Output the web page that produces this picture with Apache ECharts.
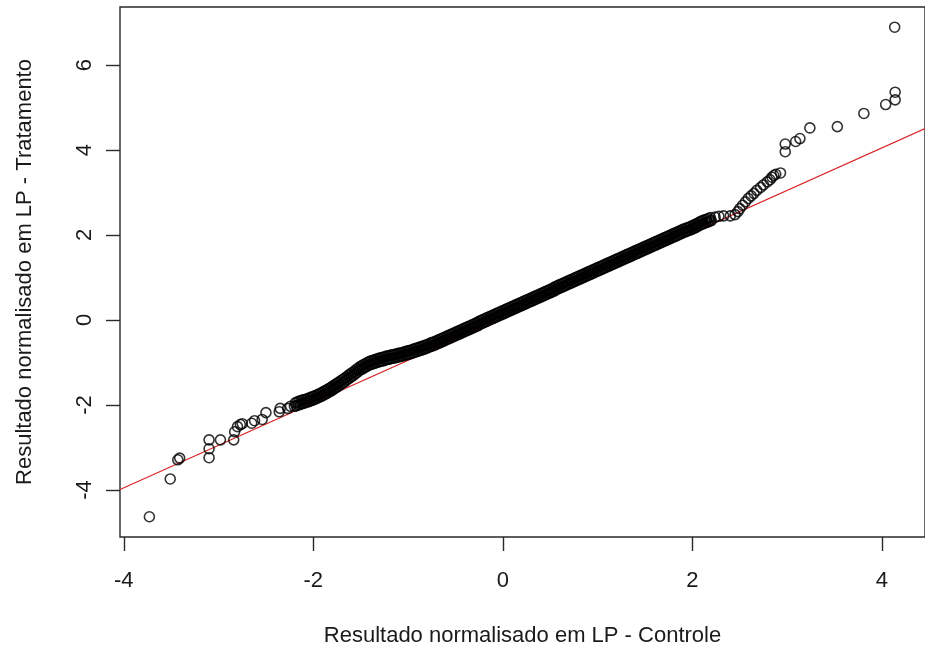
<!DOCTYPE html>
<html>
<head>
<meta charset="utf-8">
<script src="https://cdn.jsdelivr.net/npm/echarts@6/dist/echarts.min.js"></script>
<style>
html,body{margin:0;padding:0;background:#fff;}
#chart{width:925px;height:652px;}
</style>
</head>
<body>
<div id="chart"></div>
<script>
// Quantile pairs: [Controle, Tratamento]
var tailLow = [[-3.73,-4.63],[-3.51,-3.74],[-3.43,-3.29],[-3.41,-3.25],[-3.10,-3.24],[-3.10,-3.03],[-3.10,-2.82],[-2.98,-2.82],[-2.84,-2.82],[-2.83,-2.63],[-2.80,-2.51],[-2.77,-2.46],[-2.75,-2.44],[-2.65,-2.43],[-2.62,-2.37],[-2.54,-2.34],[-2.50,-2.18],[-2.36,-2.16],[-2.35,-2.08],[-2.27,-2.08],[-2.24,-2.03]];

// dense band: lower part
var bandRowA = [
[-2.20,-2.03],[-2.18,-2.02],[-2.16,-2.00],[-2.14,-1.99],[-2.12,-1.97],
[-2.10,-1.96],[-2.08,-1.94],[-2.06,-1.93],[-2.04,-1.91],[-2.02,-1.90],
[-2.00,-1.88],[-1.98,-1.86],[-1.96,-1.84],[-1.94,-1.82],[-1.92,-1.80],
[-1.90,-1.78],[-1.88,-1.75],[-1.86,-1.73],[-1.84,-1.70],[-1.82,-1.68],
[-1.80,-1.65],[-1.78,-1.62],[-1.76,-1.59],[-1.74,-1.56],[-1.72,-1.53],
[-1.70,-1.50],[-1.68,-1.47],[-1.66,-1.44],[-1.64,-1.40],[-1.62,-1.37],
[-1.60,-1.34],[-1.58,-1.31],[-1.56,-1.27],[-1.54,-1.24],[-1.52,-1.20],
[-1.50,-1.17],[-1.48,-1.15],[-1.46,-1.12],[-1.44,-1.10],[-1.42,-1.07],
[-1.40,-1.05],[-1.38,-1.04],[-1.36,-1.02],[-1.34,-1.01],[-1.32,-0.99],
[-1.30,-0.98],[-1.28,-0.97],[-1.26,-0.96],[-1.24,-0.94],[-1.22,-0.93],
[-1.20,-0.92],[-1.18,-0.91],[-1.16,-0.90],[-1.14,-0.89],[-1.12,-0.88],
[-1.10,-0.87],[-1.08,-0.86],[-1.06,-0.85],[-1.04,-0.83],[-1.02,-0.82],
[-1.00,-0.81],[-0.98,-0.80],[-0.96,-0.78],[-0.94,-0.77],[-0.92,-0.75],
[-0.90,-0.74],[-0.88,-0.72],[-0.86,-0.71],[-0.84,-0.69],[-0.82,-0.68],
[-0.80,-0.66],[-0.78,-0.64],[-0.76,-0.62],[-0.74,-0.61],[-0.72,-0.59],
[-0.70,-0.57],[-0.68,-0.55],[-0.66,-0.53],[-0.64,-0.51],[-0.62,-0.49],
[-0.60,-0.47],[-0.58,-0.45],[-0.56,-0.43],[-0.54,-0.41],[-0.52,-0.39],
[-0.50,-0.37],[-0.48,-0.35],[-0.46,-0.33],[-0.44,-0.31],[-0.42,-0.29],
[-0.40,-0.27],[-0.38,-0.25],[-0.36,-0.23],[-0.34,-0.21],[-0.32,-0.19],
[-0.30,-0.17],[-0.28,-0.15],[-0.26,-0.13],[-0.24,-0.10],[-0.22,-0.08],
[-0.20,-0.06],[-0.18,-0.04],[-0.16,-0.02],[-0.14,0.00],[-0.12,0.02],
[-0.10,0.04],[-0.08,0.06],[-0.06,0.08],[-0.04,0.10],[-0.02,0.12],
[0.00,0.14],[0.02,0.16],[0.04,0.18],[0.06,0.20],[0.08,0.22],
[0.10,0.24],[0.12,0.26],[0.14,0.28],[0.16,0.30],[0.18,0.32],
[0.20,0.34],[0.22,0.36],[0.24,0.38],[0.26,0.40],[0.28,0.42],
[0.30,0.44],[0.32,0.46],[0.34,0.48],[0.36,0.50],[0.38,0.52],
[0.40,0.54],[0.42,0.56],[0.44,0.58],[0.46,0.60],[0.48,0.62],
[0.50,0.64],[0.52,0.66],[0.54,0.68],[0.56,0.71],[0.58,0.73],
[0.60,0.75],[0.62,0.77],[0.64,0.79],[0.66,0.81],[0.68,0.83],
[0.70,0.85],[0.72,0.87],[0.74,0.89],[0.76,0.91],[0.78,0.93],
[0.80,0.95],[0.82,0.97],[0.84,0.99],[0.86,1.01],[0.88,1.03],
[0.90,1.05],[0.92,1.07],[0.94,1.09],[0.96,1.11],[0.98,1.13],
[1.00,1.15],[1.02,1.17],[1.04,1.19],[1.06,1.21],[1.08,1.23],
[1.10,1.25],[1.12,1.27],[1.14,1.29],[1.16,1.31],[1.18,1.33],
[1.20,1.35],[1.22,1.37],[1.24,1.39],[1.26,1.41],[1.28,1.43],
[1.30,1.45],[1.32,1.47],[1.34,1.49],[1.36,1.51],[1.38,1.53],
[1.40,1.55],[1.42,1.57],[1.44,1.59],[1.46,1.61],[1.48,1.63],
[1.50,1.65],[1.52,1.67],[1.54,1.69],[1.56,1.71],[1.58,1.73],
[1.60,1.75],[1.62,1.77],[1.64,1.79],[1.66,1.81],[1.68,1.83],
[1.70,1.85],[1.72,1.87],[1.74,1.89],[1.76,1.91],[1.78,1.93],
[1.80,1.95],[1.82,1.97],[1.84,1.99],[1.86,2.01],[1.88,2.03],
[1.90,2.05],[1.92,2.07],[1.94,2.09],[1.96,2.10],[1.98,2.12],
[2.00,2.14],[2.02,2.16],[2.04,2.18],[2.06,2.21],[2.08,2.23],
[2.10,2.25],[2.12,2.27],[2.14,2.29],[2.16,2.30],[2.18,2.32],
[2.20,2.34]];

// dense band: upper part
var bandRowB = [
[-2.19,-1.95],[-2.17,-1.93],[-2.15,-1.91],[-2.13,-1.90],[-2.11,-1.88],
[-2.09,-1.87],[-2.07,-1.86],[-2.05,-1.84],[-2.03,-1.82],[-2.01,-1.81],
[-1.99,-1.79],[-1.97,-1.77],[-1.95,-1.75],[-1.93,-1.73],[-1.91,-1.71],
[-1.89,-1.68],[-1.87,-1.66],[-1.85,-1.63],[-1.83,-1.61],[-1.81,-1.58],
[-1.79,-1.55],[-1.77,-1.52],[-1.75,-1.49],[-1.73,-1.46],[-1.71,-1.43],
[-1.69,-1.40],[-1.67,-1.37],[-1.65,-1.34],[-1.63,-1.30],[-1.61,-1.27],
[-1.59,-1.24],[-1.57,-1.21],[-1.55,-1.17],[-1.53,-1.14],[-1.51,-1.10],
[-1.49,-1.08],[-1.47,-1.05],[-1.45,-1.03],[-1.43,-1.00],[-1.41,-0.98],
[-1.39,-0.96],[-1.37,-0.95],[-1.35,-0.93],[-1.33,-0.92],[-1.31,-0.90],
[-1.29,-0.89],[-1.27,-0.88],[-1.25,-0.87],[-1.23,-0.85],[-1.21,-0.84],
[-1.19,-0.83],[-1.17,-0.82],[-1.15,-0.81],[-1.13,-0.80],[-1.11,-0.79],
[-1.09,-0.78],[-1.07,-0.77],[-1.05,-0.76],[-1.03,-0.74],[-1.01,-0.73],
[-0.99,-0.72],[-0.97,-0.71],[-0.95,-0.69],[-0.93,-0.68],[-0.91,-0.66],
[-0.89,-0.65],[-0.87,-0.63],[-0.85,-0.62],[-0.83,-0.60],[-0.81,-0.59],
[-0.79,-0.57],[-0.77,-0.55],[-0.75,-0.53],[-0.73,-0.52],[-0.71,-0.50],
[-0.69,-0.48],[-0.67,-0.46],[-0.65,-0.44],[-0.63,-0.42],[-0.61,-0.40],
[-0.59,-0.38],[-0.57,-0.36],[-0.55,-0.34],[-0.53,-0.32],[-0.51,-0.30],
[-0.49,-0.28],[-0.47,-0.26],[-0.45,-0.24],[-0.43,-0.22],[-0.41,-0.20],
[-0.39,-0.18],[-0.37,-0.16],[-0.35,-0.14],[-0.33,-0.12],[-0.31,-0.10],
[-0.29,-0.08],[-0.27,-0.06],[-0.25,-0.03],[-0.23,-0.01],[-0.21,0.01],
[-0.19,0.03],[-0.17,0.05],[-0.15,0.07],[-0.13,0.09],[-0.11,0.11],
[-0.09,0.13],[-0.07,0.15],[-0.05,0.17],[-0.03,0.19],[-0.01,0.21],
[0.01,0.23],[0.03,0.25],[0.05,0.27],[0.07,0.29],[0.09,0.31],
[0.11,0.33],[0.13,0.35],[0.15,0.37],[0.17,0.39],[0.19,0.41],
[0.21,0.43],[0.23,0.45],[0.25,0.47],[0.27,0.49],[0.29,0.51],
[0.31,0.53],[0.33,0.55],[0.35,0.57],[0.37,0.59],[0.39,0.61],
[0.41,0.63],[0.43,0.65],[0.45,0.67],[0.47,0.69],[0.49,0.71],
[0.51,0.73],[0.53,0.75],[0.55,0.78],[0.57,0.80],[0.59,0.82],
[0.61,0.84],[0.63,0.86],[0.65,0.88],[0.67,0.90],[0.69,0.92],
[0.71,0.94],[0.73,0.96],[0.75,0.98],[0.77,1.00],[0.79,1.02],
[0.81,1.04],[0.83,1.06],[0.85,1.08],[0.87,1.10],[0.89,1.12],
[0.91,1.14],[0.93,1.16],[0.95,1.18],[0.97,1.20],[0.99,1.22],
[1.01,1.24],[1.03,1.26],[1.05,1.28],[1.07,1.30],[1.09,1.32],
[1.11,1.34],[1.13,1.36],[1.15,1.38],[1.17,1.40],[1.19,1.42],
[1.21,1.44],[1.23,1.46],[1.25,1.48],[1.27,1.50],[1.29,1.52],
[1.31,1.54],[1.33,1.56],[1.35,1.58],[1.37,1.60],[1.39,1.62],
[1.41,1.64],[1.43,1.66],[1.45,1.68],[1.47,1.70],[1.49,1.72],
[1.51,1.74],[1.53,1.76],[1.55,1.78],[1.57,1.80],[1.59,1.82],
[1.61,1.84],[1.63,1.86],[1.65,1.88],[1.67,1.90],[1.69,1.92],
[1.71,1.94],[1.73,1.96],[1.75,1.98],[1.77,2.00],[1.79,2.02],
[1.81,2.04],[1.83,2.06],[1.85,2.08],[1.87,2.10],[1.89,2.12],
[1.91,2.14],[1.93,2.16],[1.95,2.17],[1.97,2.19],[1.99,2.21],
[2.01,2.23],[2.03,2.25],[2.05,2.27],[2.07,2.30],[2.09,2.32],
[2.11,2.34],[2.13,2.36],[2.15,2.37],[2.17,2.39],[2.19,2.41]];

var tailHigh = [[2.24,2.42],[2.28,2.44],[2.33,2.45],[2.40,2.45],[2.45,2.48],[2.48,2.55],[2.50,2.62],[2.53,2.70],[2.56,2.78],[2.59,2.86],[2.62,2.92],[2.65,2.98],[2.68,3.05],[2.72,3.12],[2.75,3.18],[2.79,3.25],[2.82,3.30],[2.84,3.36],[2.86,3.40],[2.88,3.43],[2.93,3.46],[2.98,3.96],[2.98,4.14],[3.09,4.20],[3.135,4.27],[3.24,4.52],[3.53,4.55],[3.81,4.86],[4.04,5.07],[4.14,5.18],[4.14,5.36],[4.135,6.89]];

// Reference line (intercept, slope)
var lineIntercept = 0.05;
var lineSlope = 1.0;

var xTicks = [-4, -2, 0, 2, 4];
var yTicks = [-4, -2, 0, 2, 4, 6];
var xLimits = [-4.04, 4.455];
var yLimits = [-5.106, 7.365];

var xTitle = 'Resultado normalisado em LP - Controle';
var yTitle = 'Resultado normalisado em LP - Tratamento';

var pts = tailLow.concat(bandRowA, bandRowB, tailHigh);
var linePts = [[xLimits[0], lineIntercept + lineSlope * xLimits[0]], [xLimits[1], lineIntercept + lineSlope * xLimits[1]]];

var FONT = 'Liberation Sans, Arial, sans-serif';
var TXT = '#1a1a1a';
var chart = echarts.init(document.getElementById('chart'), null, { renderer: 'canvas' });
chart.setOption({
  animation: false,
  backgroundColor: '#fff',
  grid: { left: 120, top: 7, right: -10.5, bottom: 115, show: true, borderColor: '#2a2a2a', borderWidth: 1.4, backgroundColor: 'transparent' },
  xAxis: {
    type: 'value', min: xLimits[0], max: xLimits[1],
    axisLine: { show: false, onZero: false },
    splitLine: { show: false },
    axisTick: { show: true, customValues: xTicks, length: 14, lineStyle: { color: '#2a2a2a', width: 1.4 } },
    axisLabel: { customValues: xTicks, margin: 33, fontSize: 22, fontFamily: FONT, color: TXT },
    name: xTitle, nameLocation: 'middle', nameGap: 88,
    nameTextStyle: { fontSize: 22, fontFamily: FONT, color: TXT }
  },
  yAxis: {
    type: 'value', min: yLimits[0], max: yLimits[1],
    axisLine: { show: false, onZero: false },
    splitLine: { show: false },
    axisTick: { show: true, customValues: yTicks, length: 14, lineStyle: { color: '#2a2a2a', width: 1.4 } },
    axisLabel: { customValues: yTicks, rotate: 90, margin: 24, fontSize: 22, fontFamily: FONT, color: TXT },
    name: yTitle, nameLocation: 'middle', nameGap: 84,
    nameTextStyle: { fontSize: 22, fontFamily: FONT, color: TXT }
  },
  series: [
    {
      type: 'line', data: linePts, showSymbol: false, silent: true, clip: true, z: 1,
      lineStyle: { color: '#d82222', width: 1.1 }
    },
    {
      type: 'scatter', data: pts, symbol: 'circle', symbolSize: 10, z: 2,
      itemStyle: { color: 'rgba(0,0,0,0)', borderColor: '#000', borderWidth: 1.6 }
    }
  ]
});
</script>
</body>
</html>
